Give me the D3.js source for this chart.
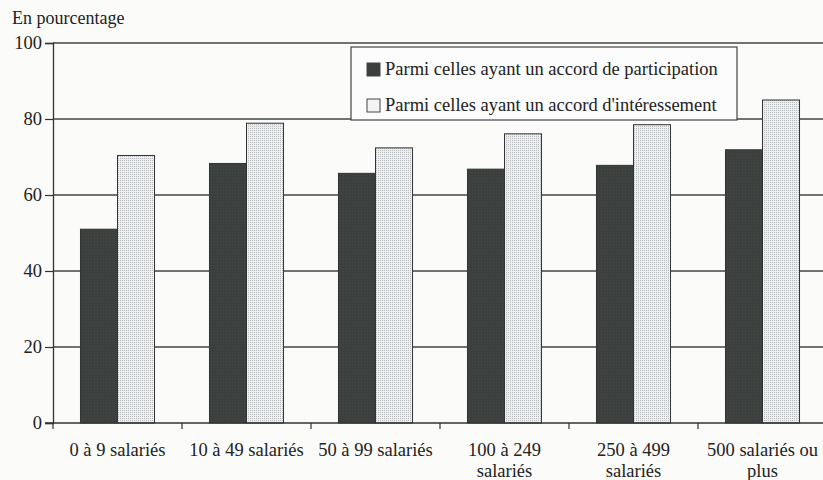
<!DOCTYPE html>
<html><head><meta charset="utf-8">
<script src="https://cdn.jsdelivr.net/npm/d3@7"></script>
<style>
html,body{margin:0;padding:0;background:#fbfbfa;}
svg{display:block;}
</style></head>
<body>
<svg id="c" width="823" height="480" font-family="Liberation Serif"></svg>
<script>
const categories = ["0 à 9 salariés","10 à 49 salariés","50 à 99 salariés","100 à 249 salariés","250 à 499 salariés","500 salariés ou plus"];
const categoryLines = [["0 à 9 salariés"],["10 à 49 salariés"],["50 à 99 salariés"],["100 à 249","salariés"],["250 à 499","salariés"],["500 salariés ou","plus"]];
const participation = [51.0, 68.3, 65.7, 66.8, 67.8, 71.9];
const interessement = [70.4, 78.9, 72.4, 76.1, 78.5, 85.0];
const seriesNames = ["Parmi celles ayant un accord de participation","Parmi celles ayant un accord d'intéressement"];
const yTicks = [0,20,40,60,80,100];

const FONT = "Liberation Serif";
const svg = d3.select("#c");
const margin = {left:53, right:-4, top:43, bottom:57};
const W = 823, H = 480;
const x0 = d3.scaleBand().domain(categories).range([margin.left, W - margin.right]).paddingInner(0.426).paddingOuter(0.213);
const x1 = d3.scaleBand().domain([0,1]).range([0, x0.bandwidth()]);
const y = d3.scaleLinear().domain([0,100]).range([H - margin.bottom, margin.top]);

const defs = svg.append("defs");
const pat = defs.append("pattern").attr("id","dots").attr("patternUnits","userSpaceOnUse").attr("width",2).attr("height",2);
pat.append("rect").attr("width",2).attr("height",2).attr("fill","#eceef0");
pat.append("rect").attr("width",1).attr("height",1).attr("fill","#b9bcbf");
const pat2 = defs.append("pattern").attr("id","grain").attr("patternUnits","userSpaceOnUse").attr("width",3).attr("height",3);
pat2.append("rect").attr("width",3).attr("height",3).attr("fill","#3b3f3d");
pat2.append("rect").attr("x",1).attr("y",1).attr("width",1).attr("height",1).attr("fill","#464a47");

// gridlines
svg.append("g").selectAll("line").data(yTicks.filter(d=>d>0)).join("line")
  .attr("x1", margin.left).attr("x2", W)
  .attr("y1", d=>y(d)).attr("y2", d=>y(d))
  .attr("stroke","#454545").attr("stroke-width",1.3);

// bars
const fills = ["url(#grain)","url(#dots)"];
const data = [participation, interessement];
const g = svg.append("g");
categories.forEach((c,i)=>{
  data.forEach((s,k)=>{
    g.append("rect")
      .attr("x", x0(c) + x1(k)).attr("width", x1.bandwidth())
      .attr("y", y(s[i])).attr("height", y(0) - y(s[i]))
      .attr("fill", fills[k]).attr("stroke","#333").attr("stroke-width",1);
  });
});

// y axis
const ya = svg.append("g").attr("transform",`translate(${margin.left},0)`)
  .call(d3.axisLeft(y).tickValues(yTicks).tickSize(8).tickPadding(3));
ya.attr("font-family",FONT);
ya.select(".domain").attr("stroke","#333").attr("stroke-width",1.3);
ya.selectAll(".tick line").attr("stroke","#333").attr("stroke-width",1.2);
ya.selectAll("text").attr("font-size",18.5).attr("fill","#222").attr("font-family",FONT);

// x axis
const xa = svg.append("g").attr("transform",`translate(0,${y(0)})`);
xa.append("line").attr("x1",margin.left-8).attr("x2",W).attr("stroke","#333").attr("stroke-width",1.3);
const bounds = categories.map(c=>x0(c) - x0.step()*x0.paddingOuter());
xa.selectAll("line.t").data(bounds).join("line").attr("class","t")
  .attr("x1",d=>d).attr("x2",d=>d).attr("y1",0).attr("y2",6).attr("stroke","#333").attr("stroke-width",1.2);
categories.forEach((c,i)=>{
  const cx = x0(c)+x0.bandwidth()/2;
  const t = xa.append("text").attr("x", cx).attr("y",33)
    .attr("text-anchor","middle").attr("font-size",18.5).attr("fill","#222").attr("font-family",FONT);
  categoryLines[i].forEach((ln,j)=>t.append("tspan").attr("x", cx).attr("dy", j?21:0).text(ln));
});

// title
svg.append("text").attr("x",12).attr("y",24).attr("font-size",18).attr("fill","#222").attr("font-family",FONT).text("En pourcentage");

// legend
const lg = svg.append("g");
lg.append("rect").attr("x",351).attr("y",47).attr("width",386).attr("height",73)
  .attr("fill","#fcfcfc").attr("stroke","#444").attr("stroke-width",1.2);
seriesNames.forEach((n,k)=>{
  const yy = 63 + k*36;
  lg.append("rect").attr("x",367).attr("y",yy).attr("width",13).attr("height",13)
    .attr("fill",k?"#f4f4f4":"#3b3f3d").attr("stroke","#444").attr("stroke-width",1);
  lg.append("text").attr("x",385).attr("y",yy+12).attr("font-size",18.5).attr("fill","#222").attr("font-family",FONT).text(n);
});
</script>
</body></html>
